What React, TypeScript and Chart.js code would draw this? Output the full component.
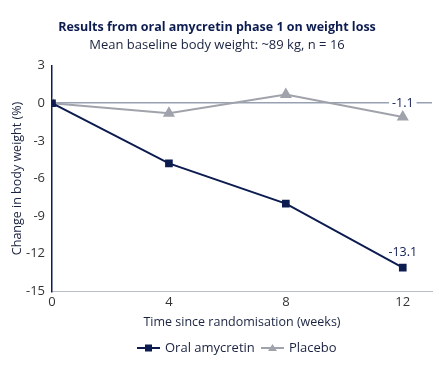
import React, { useEffect, useRef } from "react";
import { Chart, registerables } from "chart.js";

Chart.register(...registerables);

const weeks = [0, 4, 8, 12];
const amycretin = [0, -4.8, -8.0, -13.1];
const placebo = [0, -0.8, 0.7, -1.1];
const yTicks = [3, 0, -3, -6, -9, -12, -15];
const seriesNames = ["Oral amycretin", "Placebo"];
const endLabels = ["-13.1", "-1.1"];

const NAVY = "#0d1c50";
const GREY = "#a0a3ab";
const FONT = "'Open Sans', 'Noto Sans', sans-serif";

const overlay = {
  id: "overlay",
  afterDatasetsDraw(chart: any) {
    const ctx = chart.ctx;
    const xs = chart.scales.x;
    const ys = chart.scales.y;
    ctx.save();
    ctx.font = `12.5px ${FONT}`;
    ctx.textAlign = "center";
    ctx.textBaseline = "middle";
    const xa = xs.getPixelForValue(weeks[3]);
    const ya = ys.getPixelForValue(amycretin[3]);
    ctx.fillStyle = NAVY;
    ctx.fillText(endLabels[0], xa, ya - 15);
    const yp = ys.getPixelForValue(placebo[3]);
    const w = ctx.measureText(endLabels[1]).width;
    ctx.fillStyle = "#ffffff";
    ctx.fillRect(xa - w / 2 - 3, yp - 14 - 7, w + 6, 14);
    ctx.fillStyle = NAVY;
    ctx.fillText(endLabels[1], xa, yp - 14);
    ctx.restore();
  },
  afterDraw(chart: any) {
    const ctx = chart.ctx;
    ctx.save();
    ctx.font = `13px ${FONT}`;
    ctx.textBaseline = "middle";
    ctx.textAlign = "left";
    const y = 348;
    const items = [
      { x: 137, color: NAVY, name: seriesNames[0], shape: "rect" },
      { x: 261, color: GREY, name: seriesNames[1], shape: "tri" },
    ];
    for (const it of items) {
      ctx.strokeStyle = it.color;
      ctx.lineWidth = 2;
      ctx.beginPath();
      ctx.moveTo(it.x, y);
      ctx.lineTo(it.x + 23, y);
      ctx.stroke();
      ctx.fillStyle = it.color;
      const cx = it.x + 11.5;
      if (it.shape === "rect") {
        ctx.fillRect(cx - 3.5, y - 3.5, 7, 7);
      } else {
        ctx.beginPath();
        ctx.moveTo(cx, y - 4);
        ctx.lineTo(cx + 4.5, y + 3);
        ctx.lineTo(cx - 4.5, y + 3);
        ctx.closePath();
        ctx.fill();
      }
      ctx.fillStyle = "#1a2340";
      ctx.fillText(it.name, it.x + 28, y);
    }
    ctx.restore();
  },
};

export default function App() {
  const ref = useRef<HTMLCanvasElement>(null);
  useEffect(() => {
    document.body.style.margin = "0";
    const chart = new Chart(ref.current!, {
      type: "line",
      data: {
        datasets: [
          {
            label: seriesNames[0],
            data: weeks.map((w, i) => ({ x: w, y: amycretin[i] })),
            borderColor: NAVY,
            backgroundColor: NAVY,
            borderWidth: 2,
            pointStyle: "rect",
            pointRadius: 4,
            pointHoverRadius: 4,
          },
          {
            label: seriesNames[1],
            data: weeks.map((w, i) => ({ x: w, y: placebo[i] })),
            borderColor: GREY,
            backgroundColor: GREY,
            borderWidth: 2,
            pointStyle: "triangle",
            pointRadius: 5,
            pointHoverRadius: 5,
          },
        ],
      },
      options: {
        animation: false,
        responsive: false,
        layout: { padding: { left: 0, right: 5, top: 0, bottom: 36 } },
        plugins: {
          legend: { display: false },
          tooltip: { enabled: false },
          title: {
            display: true,
            text: "Results from oral amycretin phase 1 on weight loss",
            color: NAVY,
            font: { family: FONT, size: 12.5, weight: "bold" },
            padding: { top: 20, bottom: 2 },
          },
          subtitle: {
            display: true,
            text: "Mean baseline body weight: ~89 kg, n = 16",
            color: "#1a2340",
            font: { family: FONT, size: 13 },
            padding: { bottom: 13 },
          },
        },
        scales: {
          x: {
            type: "linear",
            min: 0,
            max: 13,
            afterBuildTicks: (axis: any) => {
              axis.ticks = weeks.map((v) => ({ value: v }));
            },
            grid: { display: false, drawTicks: false },
            border: { color: "#b8bdc8", width: 1 },
            ticks: { color: "#333333", font: { family: FONT, size: 13 }, padding: 3 },
            title: {
              display: true,
              text: "Time since randomisation (weeks)",
              color: "#1a2340",
              font: { family: FONT, size: 12.5 },
              padding: { top: 2, bottom: 0 },
            },
          },
          y: {
            min: -15,
            max: 3,
            afterBuildTicks: (axis: any) => {
              axis.ticks = yTicks.map((v) => ({ value: v }));
            },
            afterFit: (axis: any) => {
              axis.width = 52;
            },
            grid: {
              drawTicks: false,
              color: (c: any) => (c.tick && c.tick.value === 0 ? "#97a1b3" : "rgba(0,0,0,0)"),
              lineWidth: 1.5,
            },
            border: { color: NAVY, width: 1.5 },
            ticks: { color: "#333333", font: { family: FONT, size: 13 }, padding: 7 },
            title: {
              display: true,
              text: "Change in body weight (%)",
              color: "#1a2340",
              font: { family: FONT, size: 12.5 },
              padding: { top: 10, bottom: 2 },
            },
          },
        },
      },
      plugins: [overlay],
    } as any);
    return () => chart.destroy();
  }, []);
  return (
    <div style={{ width: 439, height: 366 }}>
      <canvas ref={ref} width={439} height={366} />
    </div>
  );
}
